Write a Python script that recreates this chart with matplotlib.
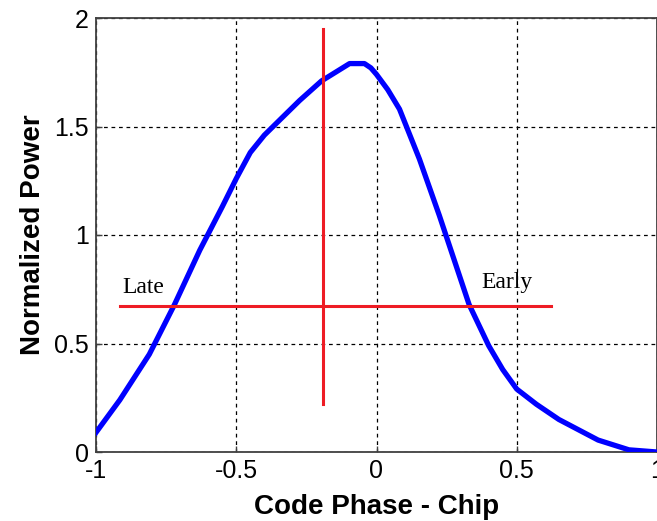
import matplotlib
matplotlib.use('Agg')
import matplotlib.pyplot as plt

# correlation curve
phase = [-1.0, -0.915, -0.81, -0.72, -0.63, -0.55, -0.5, -0.45, -0.4, -0.345, -0.274, -0.196,
         -0.096, -0.043, -0.02, 0.0, 0.04, 0.082, 0.153, 0.224, 0.33, 0.40, 0.45, 0.5, 0.57,
         0.65, 0.79, 0.9, 1.0]
power = [0.09, 0.24, 0.45, 0.68, 0.93, 1.13, 1.26, 1.38, 1.46, 1.53, 1.62, 1.71,
         1.79, 1.79, 1.77, 1.74, 1.67, 1.58, 1.35, 1.09, 0.68, 0.49, 0.38, 0.29, 0.22,
         0.15, 0.055, 0.01, 0.0]

hline_x = [-0.915, 0.623]
hline_y = [0.673, 0.673]
vline_x = [-0.192, -0.192]
vline_y = [0.22, 1.95]

xticks = [-1, -0.5, 0, 0.5, 1]
xticklabels = ['-1', '-0.5', '0', '0.5', '1']
yticks = [0, 0.5, 1, 1.5, 2]
yticklabels = ['0', '0.5', '1', '1.5', '2']

plt.rcParams['font.family'] = ['Liberation Sans', 'DejaVu Sans']

fig = plt.figure(figsize=(6.57, 5.21), dpi=100)
ax = fig.add_axes([96/657, 69/521, 1 - 96/657, 434/521])

ax.plot(phase, power, color='#0000ff', lw=3.8, solid_joinstyle='round', zorder=3)
ax.plot(hline_x, hline_y, color='#ee1c24', lw=2.2, zorder=4)
ax.plot(vline_x, vline_y, color='#ee1c24', lw=2.2, zorder=4)

ax.text(-0.905, 0.733, 'Late', family='Liberation Serif', fontsize=17)
ax.text(0.375, 0.756, 'Early', family='Liberation Serif', fontsize=17)

ax.set_xlim(-1, 1)
ax.set_ylim(0, 2)
ax.set_xticks(xticks)
ax.set_xticklabels(xticklabels)
ax.set_yticks(yticks)
ax.set_yticklabels(yticklabels)
ax.tick_params(direction='in', labelsize=18, length=4, width=1, color='#404040', pad=5)
ax.grid(True, color='black', linestyle=(0, (3, 3)), lw=0.9)
for s in ax.spines.values():
    s.set_color('#404040')
    s.set_linewidth(1.3)

ax.set_xlabel('Code Phase - Chip', fontsize=20, fontweight='bold', labelpad=8)
ax.set_ylabel('Normalized Power', fontsize=20, fontweight='bold', labelpad=6)

fig.savefig('out.png', dpi=100)
